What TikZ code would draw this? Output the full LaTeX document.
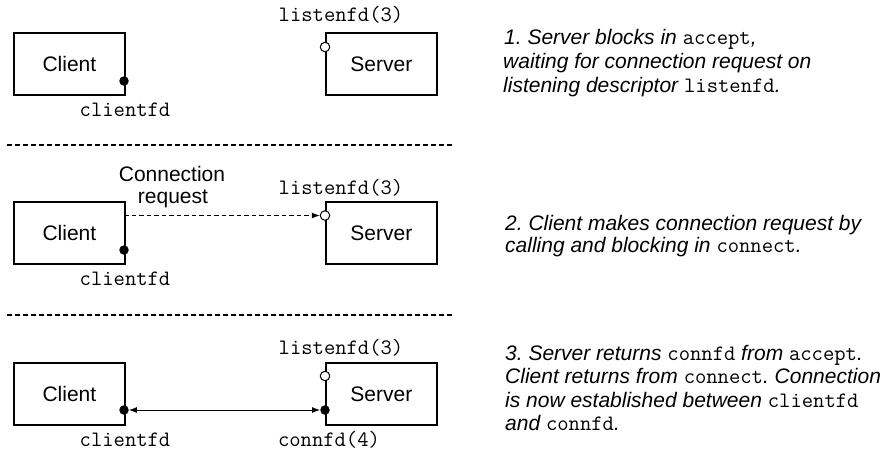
\documentclass[tikz,border=0pt]{standalone}
\usepackage{fontspec}
\setmainfont{Liberation Sans}
\usetikzlibrary{arrows.meta}
\frenchspacing
\begin{document}
\begin{tikzpicture}[x=1pt,y=-1pt,
  box/.style={draw,line width=1.8pt,minimum width=111pt,minimum height=62pt,inner sep=0pt,anchor=north west,font=\fontsize{21}{24}\selectfont},
  fdlabel/.style={inner sep=0pt,anchor=base,font=\fontsize{22}{24}\ttfamily},
  desc/.style={inner sep=0pt,anchor=base west,font=\fontsize{21}{24}\selectfont\itshape},
  closed/.style={circle,fill=black,inner sep=0pt,minimum size=9.5pt},
  opendot/.style={circle,draw=black,fill=white,line width=1pt,inner sep=0pt,minimum size=9.5pt},
  sep/.style={line width=1.1pt,dash pattern=on 5pt off 3pt},
  tip/.style={-{Latex[length=8pt,width=6pt]}}]
\useasboundingbox (0,0) rectangle (892,451);
\newcommand{\tx}[1]{{\fontsize{22}{24}\ttfamily\upshape #1}}
% ---------- panel 1
\node[box] (c1) at (13,32) {Client};
\node[box] (s1) at (325,32) {Server};
\node[closed] (cd1) at (124,81) {};
\node[opendot] (lo1) at (325,47) {};
\node[fdlabel] (lf1) at (341,21.5) {listenfd(3)};
\node[fdlabel] (cf1) at (125,116.5) {clientfd};
\node[desc] (d1a) at (504,44.5) {1. Server blocks in \tx{accept},};
\node[desc] (d1b) at (503,68) {waiting for connection request on};
\node[desc] (d1c) at (503,92) {listening descriptor \tx{listenfd}.};
\coordinate (sa1) at (7,145);
\coordinate (sb1) at (453,145);
\draw[sep] (sa1) -- (sb1);
% ---------- panel 2
\node[box] (c2) at (13,201) {Client};
\node[box] (s2) at (325,201) {Server};
\node[closed] (cd2) at (124,250) {};
\node[opendot] (lo2) at (325,215.5) {};
\coordinate (ce2) at (124,215.5);
\draw[tip,line width=0.9pt,dash pattern=on 4.5pt off 3pt] (ce2) -- (lo2);
\node[fdlabel] (lf2) at (341,194.5) {listenfd(3)};
\node[fdlabel] (cf2) at (125,285) {clientfd};
\node[inner sep=0pt,anchor=base,font=\fontsize{21}{24}\selectfont] (cr2a) at (172,181.5) {Connection};
\node[inner sep=0pt,anchor=base,font=\fontsize{21}{24}\selectfont] (cr2b) at (173,203.5) {request};
\node[desc] (d2a) at (505,230) {2. Client makes connection request by};
\node[desc] (d2b) at (505,252) {calling and blocking in \tx{connect}.};
\coordinate (sa2) at (7,315);
\coordinate (sb2) at (453,315);
\draw[sep] (sa2) -- (sb2);
% ---------- panel 3
\node[box] (c3) at (13,362) {Client};
\node[box] (s3) at (325,362) {Server};
\node[closed] (cd3) at (124,410) {};
\node[closed] (sd3) at (325,410) {};
\node[opendot] (lo3) at (325,376) {};
\draw[{Latex[length=8pt,width=6pt]}-{Latex[length=8pt,width=6pt]},line width=0.9pt] (cd3) -- (sd3);
\node[fdlabel] (lf3) at (341,354) {listenfd(3)};
\node[fdlabel] (cf3) at (125,446.5) {clientfd};
\node[fdlabel] (cn3) at (329,446.5) {connfd(4)};
\node[desc] (d3a) at (505,360) {3. Server returns \tx{connfd} from \tx{accept}.};
\node[desc] (d3b) at (505,383.5) {Client returns from \tx{connect}. Connection};
\node[desc] (d3c) at (505,407) {is now established between \tx{clientfd}};
\node[desc] (d3d) at (505,430.5) {and \tx{connfd}.};
\end{tikzpicture}
\end{document}
